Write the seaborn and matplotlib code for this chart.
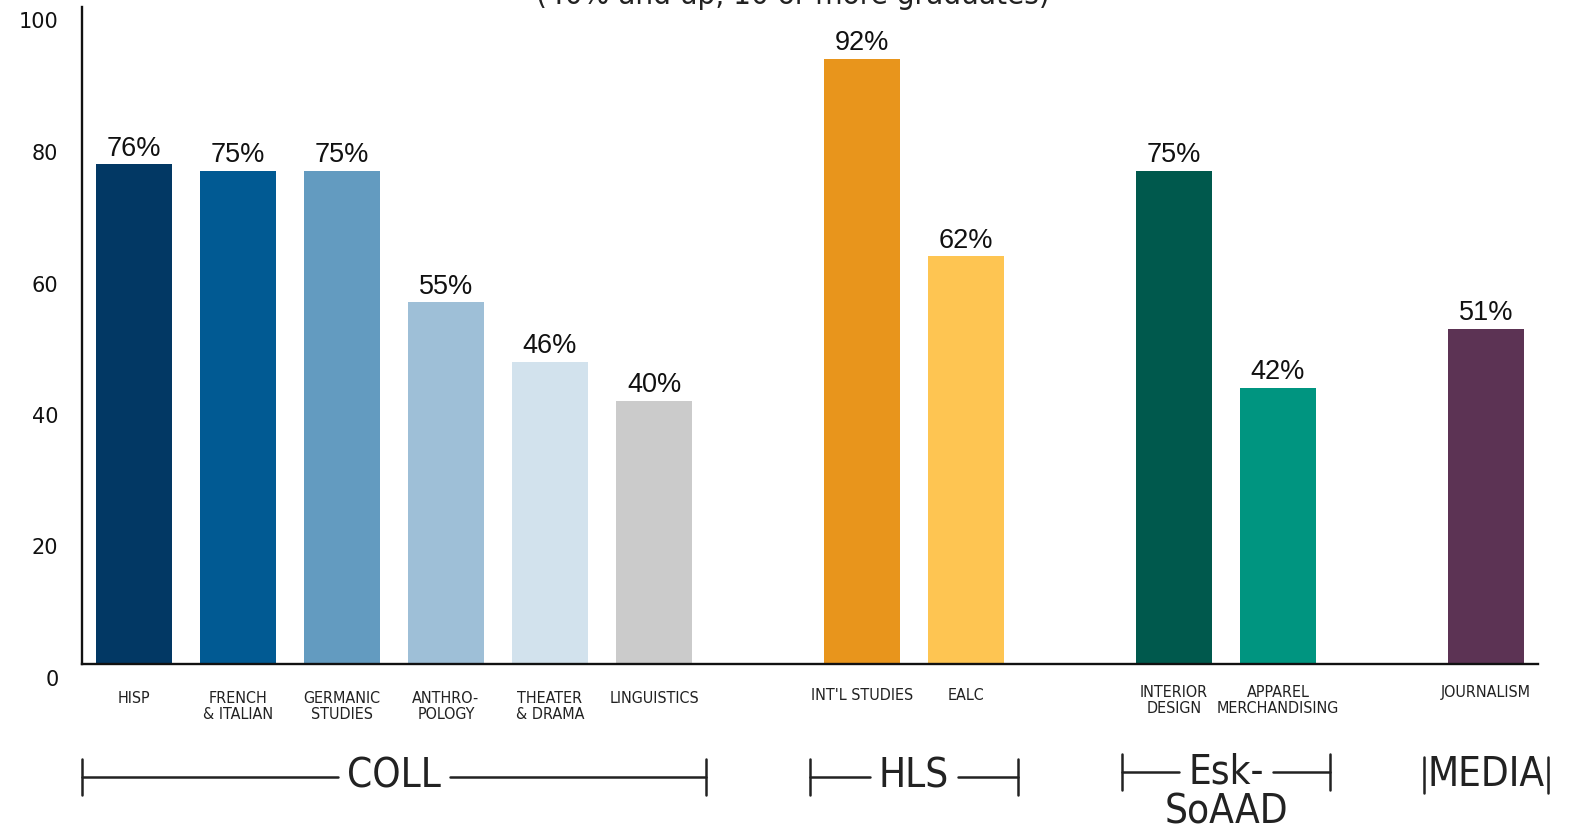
import numpy as np
import pandas as pd
import matplotlib
matplotlib.use("Agg")
import matplotlib.pyplot as plt
import matplotlib.transforms as mtransforms
import seaborn as sns

sns.set_style("white")
plt.rcParams['font.family'] = ['Liberation Sans', 'DejaVu Sans']

################################################################################
# data
################################################################################
colleges = ["COLL", "HLS", "Esk-\nSoAAD", "MEDIA"]
coll_majors = ["HISP", "FRENCH\n& ITALIAN", "GERMANIC\nSTUDIES", "ANTHRO-\nPOLOGY",
               "THEATER\n& DRAMA", "LINGUISTICS"]
hls_majors = ["INT'L STUDIES", "EALC"]
soaad_majors = ["INTERIOR\nDESIGN", "APPAREL\nMERCHANDISING"]
media_majors = ["JOURNALISM"]

coll_pct = [76, 75, 75, 55, 46, 40]
hls_pct = [92, 62]
soaad_pct = [75, 42]
media_pct = [51]

coll_colors = ["#023864", "#015a93", "#639bc0", "#9ebfd7", "#d2e2ed", "#cbcbcb"]
hls_colors = ["#e8951c", "#fec552"]
soaad_colors = ["#00594d", "#009580"]
media_colors = ["#5c3354"]

title = "(40% and up, 10 or more graduates)"

################################################################################
# table: one empty slot between colleges
################################################################################
groups = [coll_majors, hls_majors, soaad_majors, media_majors]
pcts = [coll_pct, hls_pct, soaad_pct, media_pct]
rows = []
spans = []
pos = 0
for g, (names, vals) in enumerate(zip(groups, pcts)):
    start = pos
    for n, v in zip(names, vals):
        rows.append({"pos": pos, "major": n, "percent": v, "college": colleges[g]})
        pos += 1
    spans.append((start, pos - 1))
    pos += 1
df = pd.DataFrame(rows)
palette = coll_colors + hls_colors + soaad_colors + media_colors
n_slots = df["pos"].max() + 1

################################################################################
# plot
################################################################################
fig = plt.figure(figsize=(15.72, 8.25), dpi=100)
ax = fig.add_axes([82 / 1572, 1 - 664 / 825, (1538 - 82) / 1572, 657.5 / 825])

sns.barplot(data=df, x="pos", y="percent", hue="major", hue_order=list(df["major"]),
            palette=palette, native_scale=True, width=0.73, dodge=False,
            errorbar=None, legend=False, saturation=1, linewidth=0, ax=ax)

for c in ax.containers:
    ax.bar_label(c, fmt="%d%%", padding=2, fontsize=19.5, color="#111111")

ax.set_xlim(-0.5, n_slots - 0.5)
ax.set_ylim(0, 100)
ax.set_xlabel("")
ax.set_ylabel("")

# slot boundary ticks on the baseline
ax.set_xticks(np.arange(-0.5, n_slots, 1.0))
ax.set_xticklabels([])
ax.tick_params(axis="x", direction="in", length=11, width=1.7, color="#111111")

ax.set_yticks(range(0, 101, 20))
ax.tick_params(axis="y", length=0, pad=17, labelsize=15)
shift = mtransforms.ScaledTranslation(0, -0.14, fig.dpi_scale_trans)
for lbl in ax.get_yticklabels():
    lbl.set_family("DejaVu Sans")
    lbl.set_color("#111111")
    lbl.set_transform(lbl.get_transform() + shift)

sns.despine(ax=ax)
for s in ["left", "bottom"]:
    ax.spines[s].set_linewidth(1.7)
    ax.spines[s].set_color("#111111")

cond = dict(family="DejaVu Sans", stretch="condensed")

# major names under the bars
label_off = {"COLL": 27, "HLS": 24, "Esk-\nSoAAD": 21, "MEDIA": 21}
xfig = mtransforms.blended_transform_factory(ax.transData, fig.transFigure)
for _, r in df.iterrows():
    y = 1 - (664 + label_off[r["college"]]) / 825
    ax.text(r["pos"], y, r["major"], transform=xfig, ha="center", va="top",
            fontsize=11.5, linespacing=1.05, color="#222222", **cond)

# college brackets
bracket_y = [777, 777, 772, 775]
fig.canvas.draw()
renderer = fig.canvas.get_renderer()
inv = ax.transData.inverted()
for g, name in enumerate(colleges):
    lo, hi = spans[g]
    yb = 1 - bracket_y[g] / 825
    lines = name.split("\n")
    t = ax.text((lo + hi) / 2, yb, lines[0], transform=xfig, ha="center", va="center",
                fontsize=29, color="#222222", **cond)
    if len(lines) > 1:
        ax.text((lo + hi) / 2, yb - 40 / 825, lines[1], transform=xfig, ha="center",
                va="center", fontsize=29, color="#222222", **cond)
    bb = t.get_window_extent(renderer)
    tl = inv.transform((bb.x0 - 9, 0))[0]
    tr = inv.transform((bb.x1 + 9, 0))[0]
    left = min(lo - 0.5, inv.transform((bb.x0 - 3, 0))[0])
    right = max(hi + 0.5, inv.transform((bb.x1 + 3, 0))[0])
    for a, b in ((left, tl), (tr, right)):
        if b > a:
            ax.plot([a, b], [yb, yb], transform=xfig, color="#222222", lw=1.8,
                    clip_on=False)
    for xc in (left, right):
        ax.plot([xc, xc], [yb - 18 / 825, yb + 18 / 825], transform=xfig,
                color="#222222", lw=1.8, clip_on=False)

fig.text(793 / 1572, 1 - 4 / 825, title, ha="center", va="baseline", fontsize=22.5,
         color="#222222", **cond)

fig.savefig("out.png", dpi=100)
